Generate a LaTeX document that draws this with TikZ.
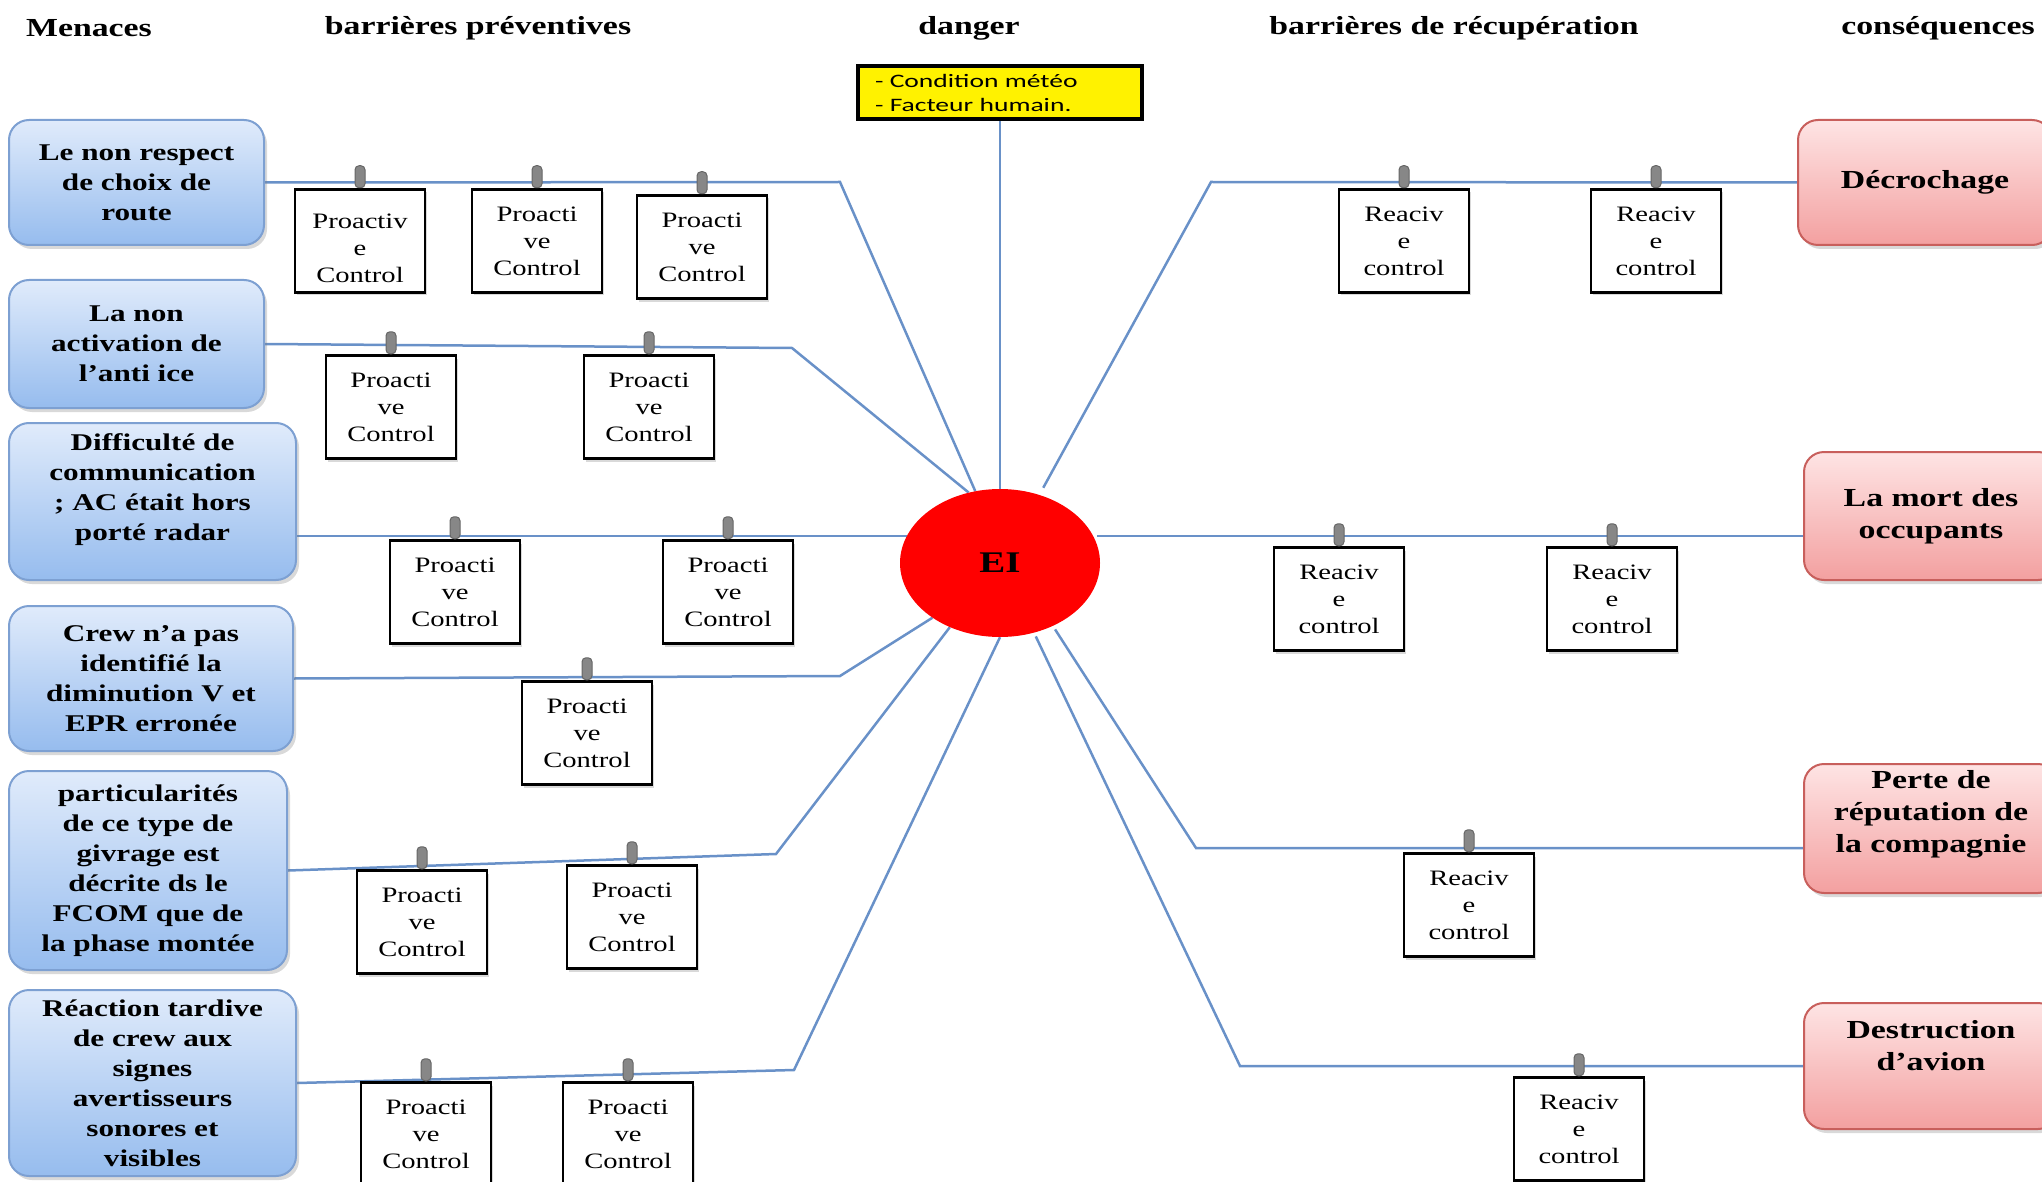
\documentclass[tikz,border=0pt]{standalone}
\usepackage{fontspec}
\setmainfont[FakeStretch=1.3]{Liberation Serif}
\newfontfamily\dangerfont[FakeStretch=1.45]{Carlito}
\usepackage{tikz}
\usetikzlibrary{shapes.geometric,shadows,backgrounds,positioning}

\definecolor{linkblue}{RGB}{105,145,200}
\definecolor{menacetop}{RGB}{224,235,251}
\definecolor{menacebot}{RGB}{150,188,238}
\definecolor{menaceline}{RGB}{125,160,210}
\definecolor{conseqtop}{RGB}{254,228,228}
\definecolor{conseqbot}{RGB}{243,160,160}
\definecolor{conseqline}{RGB}{200,95,92}
\definecolor{clipgray}{RGB}{135,135,135}

% texte decale verticalement dans sa boite
\newcommand{\liftlines}[2]{\raisebox{#1}[\height][\depth]{\begin{tabular}{@{}c@{}}#2\end{tabular}}}

\tikzset{
  header/.style={font=\fontsize{26}{30}\selectfont\bfseries},
  menace/.style={rectangle, rounded corners=20pt, draw=menaceline, line width=2pt,
    top color=menacetop, bottom color=menacebot, align=center, inner sep=0pt,
    font=\fontsize{24}{30}\selectfont\bfseries,
    drop shadow={shadow xshift=3pt, shadow yshift=-4pt, opacity=0.3}},
  conseq/.style={rectangle, rounded corners=20pt, draw=conseqline, line width=2pt,
    top color=conseqtop, bottom color=conseqbot, align=center, inner sep=0pt,
    font=\fontsize{26}{32}\selectfont\bfseries,
    minimum width=254pt,
    drop shadow={shadow xshift=3pt, shadow yshift=-4pt, opacity=0.3}},
  barrier/.style={rectangle, draw=black, line width=2.5pt, fill=white, align=center,
    inner sep=0pt, minimum width=130pt, minimum height=103pt,
    font=\fontsize{22}{27}\selectfont,
    drop shadow={shadow xshift=2pt, shadow yshift=-3pt, opacity=0.3}},
  clipper/.style={rectangle, rounded corners=4pt, draw=black!60, fill=clipgray,
    line width=1pt, inner sep=0pt, minimum width=10pt, minimum height=22pt},
  dangerbox/.style={rectangle, draw=black, line width=4pt, fill=yellow, align=left,
    inner xsep=17pt, inner ysep=2pt, text width=250pt, minimum height=53pt,
    font=\dangerfont\fontsize{19}{24}\selectfont},
  link/.style={draw=linkblue, line width=2.5pt}
}

\begin{document}
\begin{tikzpicture}[x=1pt, y=-1pt]
  \useasboundingbox (0,0) rectangle (2042,1182);
  \clip (0,0) rectangle (2042,1182);

  % titres des colonnes
  \node[header] (h1) at (89,28) {Menaces};
  \node[header] (h2) at (478,28) {barrières préventives};
  \node[header] (h3) at (969,28) {danger};
  \node[header] (h4) at (1454,28) {barrières de récupération};
  \node[header] (h5) at (1938,28) {conséquences};

  % danger et evenement
  \node[dangerbox] (danger) at (1000,92.5) {- Condition météo\\- Facteur humain.};
  \node[ellipse, fill=red, minimum width=200pt, minimum height=148pt,
    font=\fontsize{30}{34}\selectfont\bfseries] (ei) at (1000,563) {EI};

  % menaces
  \node[menace, minimum width=255pt, minimum height=125pt] (t1) at (136.5,182.5)
    {Le non respect\\de choix de\\route};
  \node[menace, minimum width=255pt, minimum height=128pt] (t2) at (136.5,344)
    {La non\\activation de\\l’anti  ice};
  \node[menace, minimum width=287pt, minimum height=157pt] (t3) at (152.5,501.5)
    {\liftlines{12pt}{Difficulté de\\communication\\; AC était hors\\porté radar}};
  \node[menace, minimum width=284pt, minimum height=145pt] (t4) at (151,678.5)
    {Crew  n’a pas\\identifié la\\diminution V et\\EPR erronée};
  \node[menace, minimum width=278pt, minimum height=199pt] (t5) at (148,870.5)
    {particularités\\de ce type de\\givrage est\\décrite ds le\\FCOM que de\\la phase montée};
  \node[menace, minimum width=287pt, minimum height=186pt] (t6) at (152.5,1083)
    {Réaction tardive\\de crew aux\\signes\\avertisseurs\\sonores et\\visibles};

  % consequences
  \node[conseq, minimum height=125pt] (c1) at (1925,182.5) {Décrochage};
  \node[conseq, minimum height=128pt] (c2) at (1931,516) {La mort des\\occupants};
  \node[conseq, minimum height=129pt] (c3) at (1931,828.5)
    {\liftlines{14pt}{Perte de\\réputation de\\la compagnie}};
  \node[conseq, minimum height=126pt] (c4) at (1931,1066)
    {\liftlines{18pt}{Destruction\\d’avion}};

  % barrieres preventives
  \node[barrier] (p1) at (360,241)
    {\liftlines{-9pt}{\fontsize{22}{24}\selectfont Proactiv\\e\\Control}};
  \node[barrier] (p2) at (537,241) {Proacti\\ve\\Control};
  \node[barrier] (p3) at (702,247) {Proacti\\ve\\Control};
  \node[barrier] (p4) at (391,407) {Proacti\\ve\\Control};
  \node[barrier] (p5) at (649,407) {Proacti\\ve\\Control};
  \node[barrier] (p6) at (455,592) {Proacti\\ve\\Control};
  \node[barrier] (p7) at (728,592) {Proacti\\ve\\Control};
  \node[barrier] (p8) at (587,733) {Proacti\\ve\\Control};
  \node[barrier] (p9) at (422,922) {Proacti\\ve\\Control};
  \node[barrier] (p10) at (632,917) {Proacti\\ve\\Control};
  \node[barrier] (p11) at (426,1134) {Proacti\\ve\\Control};
  \node[barrier] (p12) at (628,1134) {Proacti\\ve\\Control};

  % barrieres de recuperation
  \node[barrier] (r1) at (1404,241) {Reaciv\\e\\control};
  \node[barrier] (r2) at (1656,241) {Reaciv\\e\\control};
  \node[barrier] (r3) at (1339,599) {Reaciv\\e\\control};
  \node[barrier] (r4) at (1612,599) {Reaciv\\e\\control};
  \node[barrier] (r5) at (1469,905) {Reaciv\\e\\control};
  \node[barrier] (r6) at (1579,1129) {Reaciv\\e\\control};

  \foreach \b in {p1,p2,p3,p4,p5,p6,p7,p8,p9,p10,p11,p12,r1,r2,r3,r4,r5,r6}
    \node[clipper, anchor=south] (\b-clip) at (\b.north) {};

  % points de coude
  \coordinate (k1) at (840,182);
  \coordinate (k2) at (792,348);
  \coordinate (k4) at (840,676);
  \coordinate (k5) at (776,854);
  \coordinate (k6) at (794,1070);
  \coordinate (q1) at (1211,182);
  \coordinate (q3) at (1196,848);
  \coordinate (q4) at (1240,1066);

  \begin{scope}[on background layer]
    \draw[link] (danger.south) -- (ei.north);
    \draw[link] (t1.east) -- (k1) -- (ei.109);
    \draw[link] (t2.east) -- (k2) -- (ei.114);
    \draw[link] (ei.164) -- (ei.164 -| t3.east);
    \draw[link] (t4.east) -- (k4) -- (ei.219);
    \draw[link] (t5.east) -- (k5) -- (ei.232);
    \draw[link] (t6.east) -- (k6) -- (ei.270);
    \draw[link, shorten <=8pt] (ei.60) -- (q1) -- (c1.west);
    \draw[link, shorten <=4pt] (ei.16) -- (ei.16 -| c2.west);
    \draw[link, shorten <=4pt] (ei.-50) -- (q3) -- (q3 -| c3.west);
    \draw[link, shorten <=4pt] (ei.-64) -- (q4) -- (c4.west);
  \end{scope}
\end{tikzpicture}
\end{document}
